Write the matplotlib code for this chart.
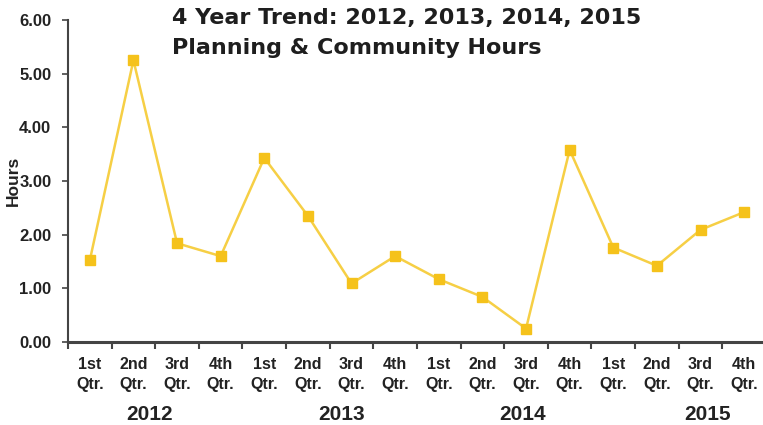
import matplotlib
matplotlib.use("Agg")
import matplotlib.pyplot as plt
from matplotlib.ticker import FixedLocator, FormatStrFormatter

# quarterly averages, 2012-2015
quarters = ["1st\nQtr.", "2nd\nQtr.", "3rd\nQtr.", "4th\nQtr."]
years = ["2012", "2013", "2014", "2015"]
hours = [1.52, 5.25, 1.84, 1.60,
         3.43, 2.35, 1.09, 1.60,
         1.17, 0.84, 0.25, 3.58,
         1.76, 1.42, 2.09, 2.42]

labels = quarters * len(years)
x = list(range(len(hours)))

narrow = ["Liberation Sans Narrow", "Liberation Sans", "DejaVu Sans"]
line_col = "#F6CF45"
mark_col = "#F5C21B"
axis_col = "#444444"

fig = plt.figure(figsize=(7.63, 4.25), dpi=100)
ax = fig.add_axes([0.0891, 0.1953, 0.9148, 0.7577])

ax.plot(x, hours, color=line_col, lw=1.8, marker="s", markersize=7,
        markerfacecolor=mark_col, markeredgecolor=mark_col, zorder=3)

ax.set_xlim(-0.5, len(hours) - 0.5)
ax.set_ylim(0, 6)
ax.set_yticks([0, 1, 2, 3, 4, 5, 6])
ax.yaxis.set_major_formatter(FormatStrFormatter("%.2f"))

# category labels sit between the tick marks
ax.set_xticks(x)
ax.set_xticklabels(labels, family=narrow, fontweight="bold", fontsize=11.5,
                   color="#222222", linespacing=1.4)
ax.tick_params(axis="x", which="major", length=0, pad=11)
ax.xaxis.set_minor_locator(FixedLocator([i - 0.5 for i in range(len(hours) + 1)]))
ax.tick_params(axis="x", which="minor", length=5, width=1.5, color=axis_col,
               direction="out")
ax.tick_params(axis="y", length=4, width=1.2, color=axis_col, pad=8)
for t in ax.get_yticklabels():
    t.set_family(narrow)
    t.set_fontweight("bold")
    t.set_fontsize(12)
    t.set_color("#222222")

for side in ["top", "right"]:
    ax.spines[side].set_visible(False)
ax.spines["left"].set_color(axis_col)
ax.spines["left"].set_linewidth(1.5)
ax.spines["bottom"].set_color(axis_col)
ax.spines["bottom"].set_linewidth(2.2)

ax.set_ylabel("Hours", family=narrow, fontweight="bold", fontsize=12.5,
              color="#222222")
ax.yaxis.set_label_coords(-0.068, 0.5)

# year names under each group of quarters
year_pos = [1.38, 5.78, 9.93, 14.15]
for yr, px in zip(years, year_pos):
    ax.text(px, -1.35, yr, ha="center", va="center", fontsize=15,
            fontweight="bold", family=["Liberation Sans", "DejaVu Sans"],
            color="#222222")

title_font = ["DejaVu Sans"]
fig.text(0.225, 0.958, "4 Year Trend: 2012, 2013, 2014, 2015",
         ha="left", va="center", fontsize=16, fontweight="bold",
         family=title_font, color="#1e1e1e")
fig.text(0.225, 0.888, "Planning & Community Hours",
         ha="left", va="center", fontsize=16, fontweight="bold",
         family=title_font, color="#1e1e1e")

fig.savefig("out.png", dpi=100)
